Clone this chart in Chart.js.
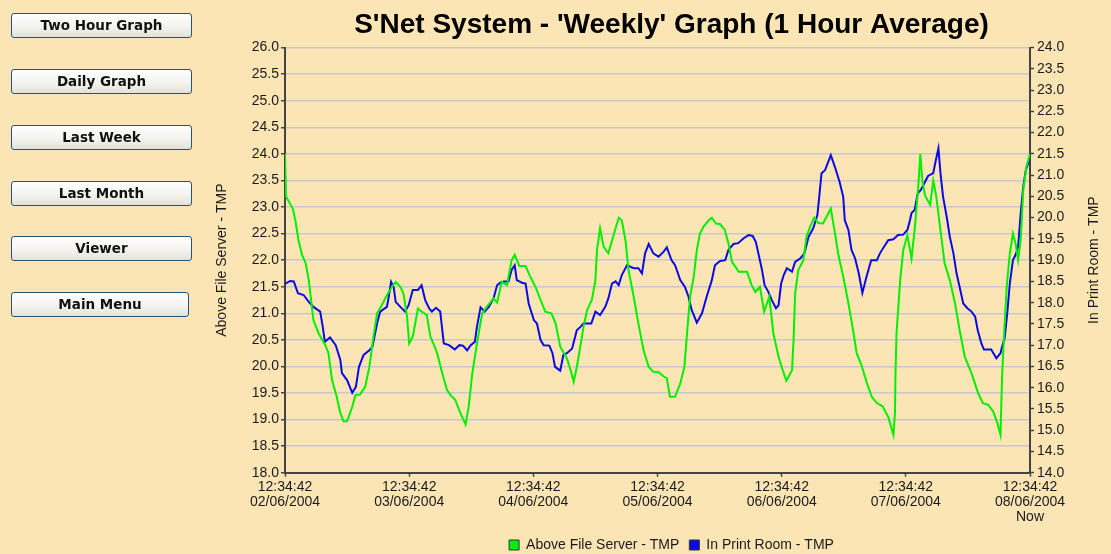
<!DOCTYPE html>
<html>
<head>
<meta charset="utf-8">
<script src="https://cdn.jsdelivr.net/npm/chart.js@4.4.0/dist/chart.umd.min.js"></script>
<style>
  html, body { margin: 0; padding: 0; background: #fce5b4; }
  #wrap { position: relative; width: 1111px; height: 554px; overflow: hidden; background: #fce5b4; }
  #c { position: absolute; left: 0; top: 0; }
  .btn {
    position: absolute; left: 11px; width: 181px; height: 25px; box-sizing: border-box;
    border: 1px solid #25537f; border-radius: 3px;
    background: linear-gradient(#ffffff, #f4f3ef 55%, #e3e1d9);
    font: bold 13.5px "DejaVu Sans", sans-serif; color: #111;
    text-align: center; line-height: 23px;
  }
</style>
</head>
<body>
<div id="wrap">
  <canvas id="c" width="1111" height="554"></canvas>
  <div class="btn" style="top:13px">Two Hour Graph</div>
  <div class="btn" style="top:69px">Daily Graph</div>
  <div class="btn" style="top:125px">Last Week</div>
  <div class="btn" style="top:181px">Last Month</div>
  <div class="btn" style="top:236px">Viewer</div>
  <div class="btn" style="top:292px;width:178px">Main Menu</div>
</div>
<script>
// hours since 12:34:42 02/06/2004, hourly averages
const fileHours = [0, 0.2, 1.5, 2, 2.6, 3.3, 4, 4.6, 5.2, 5.5, 6.5, 7.8, 8.4, 9.1, 10, 10.7, 11.3, 12, 13, 13.6,
  14.5, 15.5, 16.3, 17.1, 17.8, 18.7, 19.7, 20.7, 21.4, 22.3, 22.9, 23.6, 24, 24.7, 25.7, 26.4, 27.4, 28.1, 28.8, 29.4,
  30.4, 31.3, 32, 32.9, 33.9, 34.9, 35.5, 36.2, 37.1, 38.1, 39, 40.3, 41, 41.9, 42.9, 43.8, 44.4, 45.3, 46.5, 47.4,
  48.4, 49.4, 50.3, 51.5, 52.3, 53.2, 54.5, 55.2, 55.8, 56.4, 57.3, 57.7, 58.4, 59.3, 60, 60.3, 60.9, 61.6, 62.5, 63.5,
  64.5, 65.1, 65.8, 66.4, 67.4, 68.3, 69.3, 70.3, 71.2, 72.2, 73.2, 73.8, 74.4, 75.4, 76.4, 77.2, 77.7, 78.3, 79, 79.6,
  80.2, 80.9, 81.9, 82.5, 83.3, 84.1, 85, 85.7, 86.4, 87.7, 89.3, 90.2, 90.9, 91.8, 92.6, 93.6, 94.4, 95.4, 96.2, 96.9,
  98, 98.3, 98.6, 99.2, 100.2, 100.8, 101.5, 102.3, 103.1, 104, 104.7, 105.5, 106.2, 106.9, 107.9, 108.9, 109.8, 110.5, 111.4, 112.4,
  113.4, 114.4, 115.5, 116.6, 117.6, 117.9, 118, 118.2, 118.9, 119.5, 120.3, 121.1, 121.7, 122.4, 122.8, 123.2, 123.7, 124.7, 125.3, 125.9,
  126.6, 127.5, 128.5, 129.5, 130.4, 131.4, 132.7, 134, 134.9, 135.9, 136.9, 137.7, 138.3, 138.6, 139, 139.5, 140.1, 140.7, 141.2, 141.7,
  142.2, 142.7, 143.3, 144];
const fileTemps = [24.0, 23.2, 22.97, 22.75, 22.38, 22.1, 21.94, 21.62, 21.12, 20.87, 20.62, 20.4, 20.25, 19.74, 19.43, 19.12, 18.97, 18.97, 19.24, 19.46,
  19.47, 19.62, 19.99, 20.56, 21.0, 21.15, 21.34, 21.5, 21.59, 21.5, 21.37, 20.93, 20.43, 20.56, 21.09, 21.03, 20.97, 20.56, 20.4, 20.25,
  19.87, 19.56, 19.46, 19.37, 19.12, 18.91, 19.24, 19.87, 20.43, 21.0, 21.12, 21.28, 21.2, 21.59, 21.53, 22.0, 22.1, 21.89, 21.89, 21.69,
  21.5, 21.25, 21.03, 21.0, 20.81, 20.37, 20.15, 19.93, 19.71, 19.99, 20.5, 20.75, 21.06, 21.25, 21.62, 22.19, 22.6, 22.25, 22.13, 22.47,
  22.8, 22.75, 22.38, 21.81, 21.31, 20.81, 20.31, 19.99, 19.9, 19.89, 19.81, 19.78, 19.43, 19.43, 19.68, 19.99, 20.62, 21.31, 21.69, 22.19,
  22.5, 22.63, 22.75, 22.8, 22.69, 22.68, 22.57, 22.32, 21.97, 21.78, 21.78, 21.53, 21.4, 21.5, 21.03, 21.31, 20.62, 20.18, 19.93, 19.73,
  19.93, 20.5, 21.37, 21.81, 22.0, 22.44, 22.63, 22.8, 22.7, 22.69, 22.82, 22.97, 22.57, 22.13, 21.69, 21.19, 20.68, 20.25, 20.03, 19.71,
  19.43, 19.31, 19.25, 19.05, 18.71, 19.12, 19.87, 20.62, 21.62, 22.19, 22.47, 22.03, 22.57, 23.38, 24.0, 23.5, 23.22, 23.04, 23.5, 23.19,
  22.63, 21.94, 21.62, 21.19, 20.68, 20.18, 19.87, 19.49, 19.31, 19.28, 19.15, 18.93, 18.71, 19.81, 20.62, 21.5, 22.13, 22.5, 22.32, 22.0,
  22.38, 23.32, 23.76, 24.0];

const printHours = [0, 1, 1.7, 2.5, 3.6, 4.6, 5.5, 6.8, 7.3, 7.7, 8.7, 9.8, 10.7, 11, 12, 13, 13.7, 14.3, 15.2, 16.3,
  16.9, 17.8, 18.4, 19.7, 20, 20.5, 21, 21.4, 22.3, 23.2, 23.9, 24.7, 25.7, 26.4, 27.1, 27.9, 28.4, 29.2, 30, 30.7,
  31.7, 32.8, 33.7, 34.4, 35.2, 35.9, 36.7, 37.1, 37.8, 38.6, 39.4, 40.3, 41, 41.6, 42.3, 43.2, 43.8, 44.4, 44.8, 45.8,
  46.5, 47.1, 48.1, 48.7, 49.4, 50, 51.1, 51.7, 52.2, 53.2, 53.8, 54.5, 55.5, 56.4, 57.1, 57.7, 59.2, 60, 60.9, 61.9,
  62.5, 63.2, 63.9, 64.5, 65.1, 66.1, 67.4, 68.3, 69, 69.6, 70.3, 71.2, 72.2, 73.2, 73.8, 74.7, 75.4, 76.4, 77.3, 78,
  78.6, 79.6, 80.6, 81.5, 82.5, 83.1, 84.1, 85.1, 85.7, 86.7, 87.6, 88.6, 89.6, 90.4, 91, 91.5, 92.2, 92.7, 93.4, 94.1,
  94.9, 95.4, 95.9, 96.4, 97, 98, 98.6, 99.6, 100.4, 101.2, 102.1, 102.9, 103.2, 103.7, 104.4, 105, 105.5, 106.3, 107.2, 107.9,
  108.2, 108.9, 109.5, 110.2, 110.9, 111.6, 112.4, 113.3, 114.4, 115, 115.6, 116.6, 117.6, 118.5, 119.5, 120.3, 120.8, 121.1, 121.7, 122.3,
  122.9, 123.7, 124.3, 125.3, 125.8, 126.3, 126.7, 127.2, 127.9, 128.5, 129.2, 129.8, 130.4, 131.1, 131.9, 132.7, 133.4, 133.9, 134.6, 135.1,
  136.5, 137.5, 138.3, 138.6, 139.1, 139.6, 140.1, 140.7, 141.2, 141.7, 142.2, 142.7, 143.2, 144];
const printTemps = [18.44, 18.51, 18.5, 18.22, 18.18, 18.02, 17.9, 17.79, 17.43, 17.08, 17.18, 17.0, 16.65, 16.34, 16.18, 15.88, 16.02, 16.49, 16.77, 16.88,
  16.96, 17.51, 17.79, 17.9, 18.1, 18.49, 18.37, 18.02, 17.9, 17.79, 17.94, 18.3, 18.3, 18.41, 18.06, 17.86, 17.79, 17.88, 17.79, 17.04,
  17.0, 16.9, 17.0, 16.99, 16.88, 17.0, 17.08, 17.43, 17.89, 17.79, 17.9, 18.1, 18.41, 18.47, 18.5, 18.5, 18.77, 18.88, 18.53, 18.47,
  18.45, 17.98, 17.59, 17.51, 17.12, 17.0, 16.99, 16.81, 16.49, 16.4, 16.77, 16.81, 16.92, 17.35, 17.43, 17.51, 17.51, 17.79, 17.71, 17.9,
  18.1, 18.45, 18.5, 18.41, 18.65, 18.88, 18.81, 18.81, 18.69, 19.16, 19.38, 19.16, 19.08, 19.2, 19.3, 19.0, 18.88, 18.53, 18.37, 18.14,
  17.83, 17.53, 17.75, 18.14, 18.53, 18.88, 18.98, 19.0, 19.24, 19.38, 19.4, 19.51, 19.59, 19.57, 19.43, 19.16, 18.77, 18.41, 18.26, 18.06,
  17.87, 17.94, 18.45, 18.65, 18.81, 18.73, 18.96, 19.04, 19.16, 19.55, 19.75, 20.06, 20.41, 21.04, 21.12, 21.31, 21.47, 21.19, 20.84, 20.49,
  19.94, 19.71, 19.24, 19.04, 18.69, 18.23, 18.61, 19.0, 19.0, 19.16, 19.28, 19.47, 19.49, 19.59, 19.6, 19.71, 19.94, 20.11, 20.18, 20.57,
  20.65, 20.84, 20.98, 21.05, 21.35, 21.63, 21.04, 20.49, 20.02, 19.55, 19.16, 18.69, 18.37, 17.98, 17.87, 17.79, 17.67, 17.35, 17.04, 16.9,
  16.9, 16.69, 16.81, 16.96, 17.16, 17.75, 18.45, 19.0, 19.12, 19.31, 20.1, 20.73, 21.12, 21.4];

const tickTime = '12:34:42';
const tickDates = ['02/06/2004', '03/06/2004', '04/06/2004', '05/06/2004', '06/06/2004', '07/06/2004', '08/06/2004'];
const leftTitle = 'Above File Server - TMP';
const rightTitle = 'In Print Room - TMP';
const chartTitle = "S'Net System - 'Weekly' Graph (1 Hour Average)";

const pts = (hs, vs) => hs.map((h, i) => ({ x: h, y: vs[i] }));

// both axis titles read bottom-to-top
const axisTitles = {
  id: 'axisTitles',
  afterDraw(chart) {
    const { ctx, chartArea } = chart;
    const cy = (chartArea.top + chartArea.bottom) / 2;
    ctx.save();
    ctx.font = '14px "Liberation Sans", Arial, sans-serif';
    ctx.fillStyle = '#1a1a1a';
    ctx.textAlign = 'center';
    ctx.textBaseline = 'middle';
    [[chartArea.left - 63, leftTitle], [chartArea.right + 64, rightTitle]].forEach(([x, t]) => {
      ctx.save();
      ctx.translate(x, cy);
      ctx.rotate(-Math.PI / 2);
      ctx.fillText(t, 0, 0);
      ctx.restore();
    });
    ctx.restore();
  }
};

Chart.defaults.font.family = '"Liberation Sans", Arial, sans-serif';
Chart.defaults.font.size = 14;
Chart.defaults.color = '#1a1a1a';

new Chart(document.getElementById('c'), {
  type: 'line',
  data: {
    datasets: [
      { label: leftTitle, data: pts(fileHours, fileTemps), yAxisID: 'y', borderColor: '#00f000', backgroundColor: '#00f000', borderWidth: 2, pointRadius: 0, tension: 0 },
      { label: rightTitle, data: pts(printHours, printTemps), yAxisID: 'y1', borderColor: '#0a0ae6', backgroundColor: '#0a0ae6', borderWidth: 2, pointRadius: 0, tension: 0 }
    ]
  },
  options: {
    responsive: false, animation: false, devicePixelRatio: 1,
    layout: { padding: { left: 232, right: 0, top: 8, bottom: -8 } },
    plugins: {
      title: { display: true, text: chartTitle, color: '#000', font: { size: 28, weight: 'bold' }, padding: { top: 0, bottom: 6 } },
      legend: {
        position: 'bottom',
        labels: {
          boxWidth: 10, boxHeight: 10, padding: 10,
          generateLabels: (chart) => chart.data.datasets.map((d, i) => ({
            text: d.label, fillStyle: d.borderColor, strokeStyle: '#333', lineWidth: 1, datasetIndex: i, fontColor: '#1a1a1a'
          }))
        }
      },
      tooltip: { enabled: false }
    },
    scales: {
      x: {
        type: 'linear', min: 0, max: 144,
        afterFit(s) { s.height = 55.3; },
        ticks: {
          stepSize: 24, maxRotation: 0, autoSkip: false, padding: 3, font: { lineHeight: 1.07 },
          callback: (v) => {
            const i = Math.round(v / 24);
            const lines = [tickTime, tickDates[i]];
            if (i === tickDates.length - 1) lines.push('Now');
            return lines;
          }
        },
        grid: { drawOnChartArea: false, tickLength: 4, tickColor: '#444', tickWidth: 1.5 },
        border: { color: '#444', width: 2 }
      },
      y: {
        position: 'left', min: 18, max: 26,
        afterFit(s) { s.width = 53; },
        ticks: { stepSize: 0.5, autoSkip: false, padding: 2, callback: (v) => v.toFixed(1) },
        grid: { color: '#c8c8cc', lineWidth: 1.5, tickColor: '#444', tickLength: 4, tickWidth: 1.5 },
        border: { color: '#444', width: 2 }
      },
      y1: {
        position: 'right', min: 14, max: 24,
        afterFit(s) { s.width = 81; },
        ticks: { stepSize: 0.5, autoSkip: false, padding: 3, callback: (v) => v.toFixed(1) },
        grid: { drawOnChartArea: false, tickColor: '#444', tickLength: 4, tickWidth: 1.5 },
        border: { color: '#444', width: 2 }
      }
    }
  },
  plugins: [axisTitles]
});
</script>
</body>
</html>
